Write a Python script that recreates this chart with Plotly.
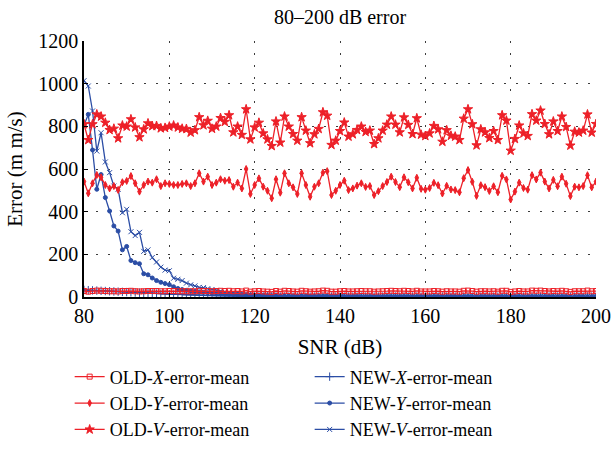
import plotly.graph_objects as go

snr = list(range(80, 201))

old_x = [28, 25, 28, 30, 29, 28, 27, 27, 26, 28, 28, 29, 27, 26, 27, 28, 28, 28, 27, 27,
         28, 28, 27, 27, 27, 27, 27, 29, 28, 28, 27, 28, 29, 28, 29, 27, 28, 26, 30, 25,
         27, 28, 26, 25, 24, 28, 25, 29, 28, 26, 25, 29, 27, 25, 26, 27, 30, 29, 25, 25,
         27, 28, 26, 26, 27, 28, 27, 27, 25, 26, 27, 28, 29, 28, 27, 29, 28, 26, 29, 26,
         26, 26, 28, 27, 25, 27, 26, 26, 25, 29, 30, 28, 25, 27, 27, 26, 27, 25, 29, 29,
         24, 26, 28, 26, 26, 30, 29, 30, 28, 26, 28, 27, 29, 27, 24, 27, 27, 27, 30, 27,
         28]

old_y = [541, 486, 533, 572, 561, 525, 509, 520, 502, 538, 544, 567, 533, 494, 525, 541,
         536, 552, 520, 533, 530, 525, 525, 530, 533, 520, 533, 580, 541, 564, 525, 536,
         552, 545, 548, 517, 536, 509, 600, 483, 525, 556, 517, 498, 463, 552, 489, 580,
         533, 514, 483, 580, 525, 470, 517, 533, 583, 590, 478, 498, 525,
         545, 501, 509, 522, 533, 516, 520, 478, 496, 520, 539, 564, 539, 515, 561, 538,
         509, 559, 507, 503, 511, 535, 524, 485, 521, 504, 501, 491, 557, 595, 540, 474,
         524, 515, 497, 519, 491, 568, 551, 457, 494, 536, 511, 503, 571, 551, 583, 541,
         509, 549, 519, 564, 531, 473, 517, 514, 520, 571, 514, 541]

old_v = [810, 736, 810, 856, 846, 817, 783, 789, 744, 804, 799, 833, 795, 749, 786, 814,
         801, 802, 791, 793, 799, 804, 795, 789, 788, 771, 782, 843, 805, 826, 789, 799,
         839, 821, 852, 772, 799, 760, 880, 739, 795, 817, 767, 739, 708, 823, 724, 846,
         799, 764, 733, 843, 780, 721, 763, 788, 866, 850, 713, 733, 778,
         818, 752, 763, 783, 799, 774, 780, 717, 744, 780, 808, 846, 808, 772, 842, 807,
         764, 838, 761, 755, 767, 802, 786, 728, 782, 756, 752, 736, 836, 880, 810, 711,
         786, 772, 745, 778, 736, 852, 827, 686, 741, 804, 767, 755, 857, 827, 874, 811,
         763, 823, 778, 846, 797, 710, 775, 771, 780, 856, 771, 811]

new_x = [33, 32, 31, 30, 29, 28, 27, 26, 25, 24, 23, 22, 21, 20, 19, 18, 17, 16, 15, 14,
         13, 12, 12, 11, 10, 10, 9, 8, 8, 7, 7, 6, 6, 5, 5, 5, 4, 4, 4, 4,
         3, 3, 3, 3, 3, 3, 2, 2, 2, 2, 2, 2, 2, 2, 2, 2, 2, 2, 2, 2,
         2, 2, 2, 2, 2, 2, 2, 2, 2, 2, 2, 2, 2, 2, 2, 2, 2, 2, 2, 2,
         2, 2, 2, 2, 2, 2, 2, 2, 2, 2, 2, 2, 2, 2, 2, 2, 2, 2, 2, 2,
         2, 2, 2, 2, 2, 2, 2, 2, 2, 2, 2, 2, 2, 2, 2, 2, 2, 2, 2, 2,
         2]

new_y = [805, 856, 689, 505, 574, 466, 403, 333, 309, 221, 237, 171, 161, 156, 109, 104,
         89, 77, 69, 63, 58, 48, 40, 35, 31, 28, 26, 24, 22, 20,
         18, 17, 15, 14, 13, 12, 11, 10, 9, 8, 8, 7, 7, 6, 6, 5, 5, 5, 4, 4,
         4, 4, 3, 3, 3, 3, 3, 3, 3, 3,
         2, 2, 2, 2, 2, 2, 2, 2, 2, 2, 2, 2, 2, 2, 2, 2, 2, 2, 2, 2,
         2, 2, 2, 2, 2, 2, 2, 2, 2, 2, 2, 2, 2, 2, 2, 2, 2, 2, 2, 2,
         2, 2, 2, 2, 2, 2, 2, 2, 2, 2, 2, 2, 2, 2, 2, 2, 2, 2, 2, 2,
         2]

new_v = [1014, 989, 872, 684, 770, 633, 583, 520, 505, 395, 411, 306, 288, 303, 214, 221,
         185, 164, 140, 126, 123, 88, 83, 77, 65, 57, 52, 45, 44, 39,
         35, 31, 27, 24, 22, 20, 18, 16, 15, 13, 12, 11, 10, 9, 8, 8, 7, 6, 6, 5,
         5, 5, 4, 4, 4, 4, 3, 3, 3, 3,
         3, 3, 3, 3, 3, 2, 2, 2, 2, 2, 2, 2, 2, 2, 2, 2, 2, 2, 2, 2,
         2, 2, 2, 2, 2, 2, 2, 2, 2, 2, 2, 2, 2, 2, 2, 2, 2, 2, 2, 2,
         2, 2, 2, 2, 2, 2, 2, 2, 2, 2, 2, 2, 2, 2, 2, 2, 2, 2, 2, 2,
         2]

RED = "rgb(237,32,40)"
BLUE = "rgb(43,77,165)"
FONT = "Liberation Serif, Times New Roman, DejaVu Serif, serif"

series = [
    ("NEW-<i>X</i>-error-mean", new_x, BLUE, "cross-thin", 6, 2),
    ("NEW-<i>Y</i>-error-mean", new_y, BLUE, "circle", 4, 4),
    ("NEW-<i>V</i>-error-mean", new_v, BLUE, "x-thin", 5, 6),
    ("OLD-<i>X</i>-error-mean", old_x, RED, "square-open", 5, 1),
    ("OLD-<i>Y</i>-error-mean", old_y, RED, "diamond-tall", 5, 3),
    ("OLD-<i>V</i>-error-mean", old_v, RED, "star", 7, 5),
]

fig = go.Figure()
for name, vals, col, sym, size, rank in series:
    fig.add_trace(go.Scatter(
        x=snr[:len(vals)], y=vals, name=name, mode="lines+markers",
        line=dict(color=col, width=1.3),
        marker=dict(symbol=sym, size=size, color=col,
                    line=dict(color=col, width=1)),
        legendrank=rank,
    ))

def f(size):
    return dict(family=FONT, size=size, color="black")

fig.update_layout(
    width=613, height=457,
    margin=dict(l=84, r=17, t=41, b=160, autoexpand=False),
    paper_bgcolor="white", plot_bgcolor="white",
    font=f(20),
    title=dict(text="80–200 dB error", x=0.5, xref="paper", y=0.962,
               xanchor="center", yanchor="middle", font=f(20)),
    showlegend=True,
    legend=dict(orientation="h", x=-0.028, xanchor="left", y=-0.24, yanchor="top",
                entrywidth=195, entrywidthmode="pixels", traceorder="normal",
                font=f(18), bgcolor="rgba(0,0,0,0)", itemwidth=30),
)
grid = dict(showgrid=True, gridcolor="rgb(60,60,60)", griddash="2px,10px", gridwidth=1,
            showline=True, linecolor="black", linewidth=1.5,
            ticks="inside", ticklen=4, tickcolor="black", zeroline=False,
            automargin=False, tickfont=f(20))
fig.update_xaxes(range=[80, 200], dtick=20, tick0=80,
                 title=dict(text="SNR (dB)", standoff=14, font=f(21)), **grid)
fig.update_yaxes(range=[0, 1200], dtick=200,
                 title=dict(text="Error (m m/s)", standoff=10, font=f(21)), **grid)

fig.write_html("out.html", config={"displayModeBar": False})

with open("out.html", encoding="utf-8") as fh:
    html = fh.read()
html = html.replace("<head>", "<head><style>html,body{margin:0;padding:0;overflow:hidden;}</style>", 1)
with open("out.html", "w", encoding="utf-8") as fh:
    fh.write(html)
